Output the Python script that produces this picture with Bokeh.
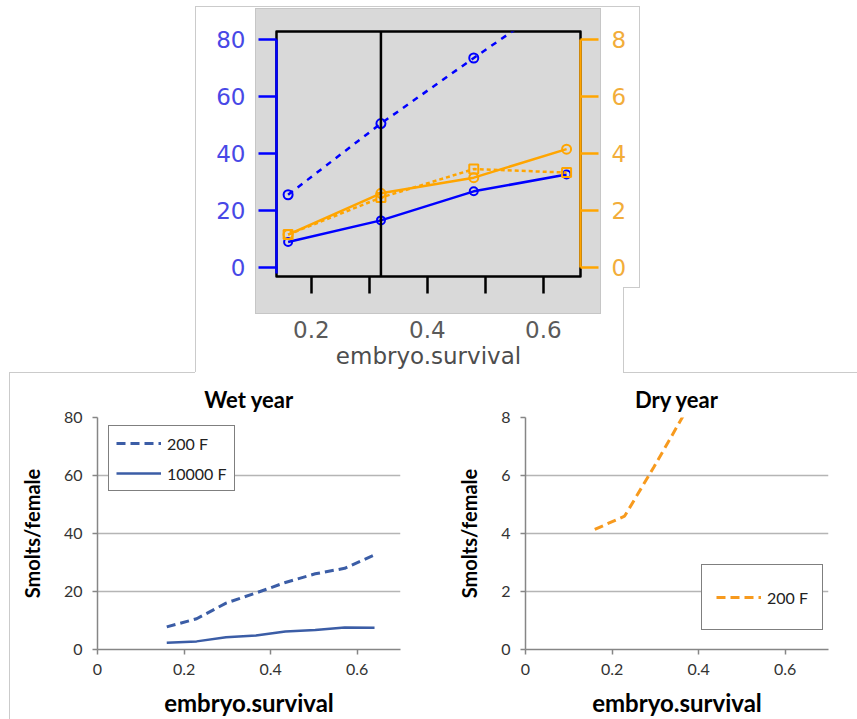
from bokeh.plotting import figure
from bokeh.layouts import row, column
from bokeh.models import (Range1d, LinearAxis, FixedTicker, Span, Legend,
                          LegendItem, Spacer)
from bokeh.embed import file_html
from bokeh.resources import INLINE

# ---------------- data ----------------
# model output at four embryo survival levels (upper panel)
emb4 = [0.16, 0.32, 0.48, 0.64]
wet_200 = [25.5, 50.5, 73.5, 96.0]
wet_10000 = [8.9, 16.5, 26.7, 32.6]
dry_10000 = [1.15, 2.6, 3.15, 4.15]
dry_200 = [1.15, 2.45, 3.45, 3.33]

# finer survival grid (lower panels)
emb8 = [0.16, 0.229, 0.297, 0.366, 0.434, 0.503, 0.571, 0.64]
wet_year_200 = [7.8, 10.6, 16.0, 19.5, 23.1, 26.1, 28.0, 32.6]
wet_year_10000 = [2.3, 2.8, 4.2, 4.8, 6.2, 6.7, 7.6, 7.5]
emb_dry = [0.16, 0.229, 0.297, 0.366]
dry_year_200 = [4.14, 4.6, 6.3, 8.1]

top_x_ticks = [0.2, 0.3, 0.4, 0.5, 0.6]
top_x_labels = {0.2: "0.2", 0.3: "", 0.4: "0.4", 0.5: "", 0.6: "0.6"}
wet_ticks = [0, 20, 40, 60, 80]
dry_ticks = [0, 2, 4, 6, 8]
low_x_ticks = [0, 0.2, 0.4, 0.6]
low_x_labels = {0: "0", 0.2: "0.2", 0.4: "0.4", 0.6: "0.6"}
survival_marker = 0.32

BLUE = "#0000ff"
ORANGE = "#ffa500"
XL_BLUE = "#3b5da6"
XL_ORANGE = "#f79a1e"
R_FONT = "DejaVu Sans"
XL_FONT = "Lato"
EDGE = "#cbcbcb"


def css_boxes(boxes):
    """CSS background layers (first one painted on top): (color, x, y, w, h)."""
    imgs, pos, size = [], [], []
    for col, x, y, w, h in boxes:
        imgs.append(f"linear-gradient({col}, {col})")
        pos.append(f"{x}px {y}px")
        size.append(f"{w}px {h}px")
    return {"background-image": ", ".join(imgs),
            "background-position": ", ".join(pos),
            "background-size": ", ".join(size),
            "background-repeat": "no-repeat"}


# ---------------- upper panel (two y scales) ----------------
TW, TH = 445, 372
top = figure(width=TW, height=TH, output_backend="svg", toolbar_location=None,
             min_border_left=81, min_border_right=TW - 81 - 304,
             min_border_top=31, min_border_bottom=TH - 276,
             x_range=Range1d(0.14, 0.664), y_range=Range1d(-3.2, 82.8),
             x_axis_location=None, y_axis_location=None,
             border_fill_alpha=0, background_fill_alpha=0)
# panel frame lines and grey plotting region behind the canvas
top.styles = css_boxes([
    ("#d9d9d9", 61, 9, 344, 304),
    ("#c6c6c6", 60, 8, 346, 306),
    (EDGE, 0, 6, 1, 366),
    (EDGE, 0, 6, 445, 1),
    (EDGE, 444, 6, 1, 281),
    (EDGE, 428, 287, 17, 1),
    (EDGE, 428, 287, 1, 85),
])
top.grid.visible = False
top.outline_line_color = "black"
top.outline_line_width = 2.5
top.outline_line_join = "round"
top.extra_y_ranges = {"dry": Range1d(-0.32, 8.28)}

ax_l = LinearAxis(ticker=FixedTicker(ticks=wet_ticks), bounds=(-2, 80))
ax_r = LinearAxis(ticker=FixedTicker(ticks=dry_ticks), bounds=(0, 8), y_range_name="dry")
for ax, col, lab in ((ax_l, BLUE, "#4848e6"), (ax_r, ORANGE, "#f2ad3a")):
    ax.axis_line_color = col
    ax.axis_line_width = 2.5
    ax.major_tick_line_color = col
    ax.major_tick_line_width = 2.5
    ax.major_tick_out = 18
    ax.major_tick_in = 0
    ax.minor_tick_line_color = None
    ax.major_label_text_color = lab
    ax.major_label_text_font = R_FONT
    ax.major_label_text_font_size = "23px"
    ax.major_label_standoff = 13
top.add_layout(ax_l, "left")
top.add_layout(ax_r, "right")

ax_b = LinearAxis(ticker=FixedTicker(ticks=top_x_ticks), major_label_overrides=top_x_labels)
ax_b.axis_line_color = None
ax_b.major_tick_line_color = "black"
ax_b.major_tick_line_width = 2.5
ax_b.major_tick_out = 17
ax_b.major_tick_in = 0
ax_b.minor_tick_line_color = None
ax_b.major_label_text_color = "#5a5a5a"
ax_b.major_label_text_font = R_FONT
ax_b.major_label_text_font_size = "23px"
ax_b.major_label_standoff = 27
ax_b.axis_label = "embryo.survival"
ax_b.axis_label_text_color = "#4d4d4d"
ax_b.axis_label_text_font = R_FONT
ax_b.axis_label_text_font_size = "23px"
ax_b.axis_label_text_font_style = "normal"
ax_b.axis_label_standoff = 2
top.add_layout(ax_b, "below")

top.add_layout(Span(location=survival_marker, dimension="height",
                    line_color="black", line_width=2.5))

top.line(emb4, wet_200, line_color=BLUE, line_width=2.5, line_dash="6 6")
top.scatter(emb4, wet_200, marker="circle", size=9, fill_color=None,
            line_color=BLUE, line_width=2)
top.line(emb4, wet_10000, line_color=BLUE, line_width=2.5)
top.scatter(emb4, wet_10000, marker="circle", size=8, fill_color=None,
            line_color=BLUE, line_width=2)
top.line(emb4, dry_200, line_color=ORANGE, line_width=2.5, line_dash="4 3",
         y_range_name="dry")
top.scatter(emb4, dry_200, marker="square", size=9, fill_color=None,
            line_color=ORANGE, line_width=2, y_range_name="dry")
top.line(emb4, dry_10000, line_color=ORANGE, line_width=2.5, y_range_name="dry")
top.scatter(emb4, dry_10000, marker="circle", size=9, fill_color=None,
            line_color=ORANGE, line_width=2, y_range_name="dry")


# ---------------- lower panels ----------------
BH = 347


def lower(width, left, ymax, ticks, title, edges):
    p = figure(width=width, height=BH, output_backend="svg", toolbar_location=None,
               min_border_left=left, min_border_right=width - left - 303,
               min_border_top=45, min_border_bottom=69,
               x_range=Range1d(0, 0.7), y_range=Range1d(0, ymax), title=title,
               border_fill_alpha=0, outline_line_color=None)
    p.styles = css_boxes(edges)
    p.title.align = "center"
    p.title.text_font = XL_FONT
    p.title.text_font_size = "22px"
    p.title.text_font_style = "bold"
    p.title.text_color = "black"
    p.xgrid.visible = False
    p.ygrid.ticker = FixedTicker(ticks=ticks)
    p.ygrid.grid_line_color = "#b5b5b5"
    p.ygrid.grid_line_width = 1.5
    p.xaxis.ticker = FixedTicker(ticks=low_x_ticks)
    p.xaxis.major_label_overrides = low_x_labels
    p.yaxis.ticker = FixedTicker(ticks=ticks)
    for ax in (p.xaxis[0], p.yaxis[0]):
        ax.axis_line_color = "#868686"
        ax.axis_line_width = 1.5
        ax.major_tick_line_color = "#868686"
        ax.major_tick_line_width = 1.5
        ax.major_tick_in = 0
        ax.major_tick_out = 5
        ax.minor_tick_line_color = None
        ax.major_label_text_font = XL_FONT
        ax.major_label_text_font_size = "16px"
        ax.major_label_text_color = "#333333"
        ax.axis_label_text_font = XL_FONT
        ax.axis_label_text_font_style = "bold"
        ax.axis_label_text_color = "black"
    p.xaxis.major_label_standoff = 9
    p.yaxis.major_label_standoff = 10
    p.xaxis.axis_label = "embryo.survival"
    p.xaxis.axis_label_text_font_size = "24px"
    p.xaxis.axis_label_standoff = 10
    p.yaxis.axis_label = "Smolts/female"
    p.yaxis.axis_label_text_font_size = "20px"
    p.yaxis.axis_label_standoff = 17
    return p


def style_legend(lg):
    lg.border_line_color = "black"
    lg.border_line_width = 1.5
    lg.background_fill_color = "white"
    lg.background_fill_alpha = 1
    lg.label_text_font = XL_FONT
    lg.label_text_font_size = "16px"
    lg.label_text_color = "#222222"
    lg.glyph_width = 45
    lg.glyph_height = 20
    lg.label_height = 20
    lg.label_standoff = 6
    lg.margin = 0


wet = lower(430, 97, 80, wet_ticks, "Wet year",
            [(EDGE, 9, 0, 1, BH), (EDGE, 9, 0, 186, 1)])
r_w200 = wet.line(emb8, wet_year_200, line_color=XL_BLUE, line_width=3, line_dash="9 5")
r_w10k = wet.line(emb8, wet_year_10000, line_color=XL_BLUE, line_width=2.5)
lg_w = Legend(items=[LegendItem(label="200 F", renderers=[r_w200]),
                     LegendItem(label="10000 F", renderers=[r_w10k])],
              location=(11, 158))
style_legend(lg_w)
lg_w.padding = 7
lg_w.spacing = 10
wet.add_layout(lg_w)

dry = lower(427, 95, 8, dry_ticks, "Dry year", [(EDGE, 193, 0, 234, 1)])
r_d200 = dry.line(emb_dry, dry_year_200, line_color=XL_ORANGE, line_width=3, line_dash="9 5")
lg_d = Legend(items=[LegendItem(label="200 F", renderers=[r_d200])], location=(176, 19))
style_legend(lg_d)
lg_d.padding = 14
lg_d.label_height = 36
lg_d.glyph_height = 36
dry.add_layout(lg_d)

root = column(row(Spacer(width=195, height=TH), top, spacing=0),
              row(wet, dry, spacing=0), spacing=0)

open("out.html", "w").write(file_html(root, INLINE))
